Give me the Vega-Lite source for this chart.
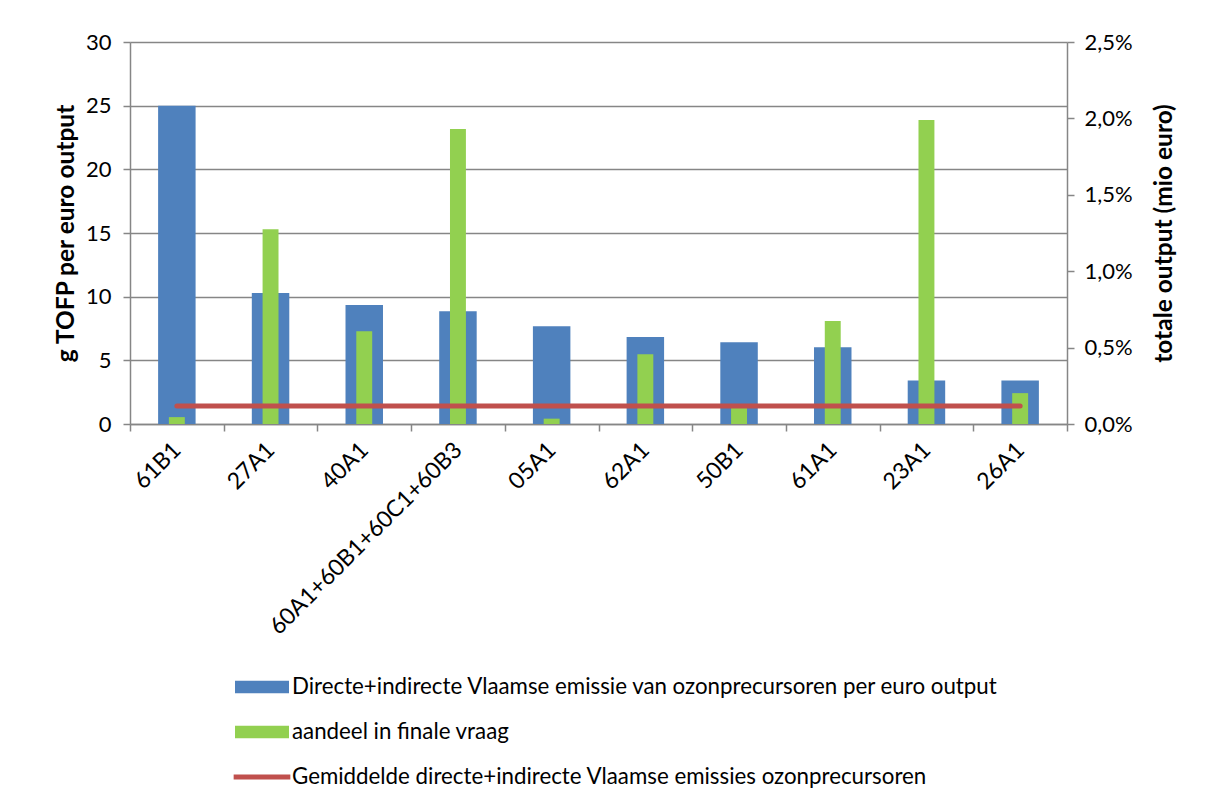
{
  "$schema": "https://vega.github.io/schema/vega-lite/v6.json",
  "width": 937,
  "height": 382,
  "autosize": {"type": "none"},
  "padding": {"left": 130, "top": 42, "right": 141, "bottom": 380},
  "background": "white",
  "config": {
    "view": {"stroke": null},
    "font": "Lato",
    "axis": {
      "labelFont": "Lato",
      "titleFont": "Lato",
      "labelFontSize": 22,
      "titleFontSize": 24.5,
      "labelColor": "#000000",
      "titleColor": "#000000",
      "domainColor": "#868686",
      "tickColor": "#868686",
      "gridColor": "#868686",
      "domainWidth": 1.5,
      "tickWidth": 1.5,
      "gridWidth": 1.5
    }
  },
  "data": {
    "values": [
      {"sector": "61B1", "emissie": 25.0, "aandeel": 0.00045, "gemiddelde": 1.42},
      {"sector": "27A1", "emissie": 10.29, "aandeel": 0.01274, "gemiddelde": 1.42},
      {"sector": "40A1", "emissie": 9.35, "aandeel": 0.00607, "gemiddelde": 1.42},
      {"sector": "60A1+60B1+60C1+60B3", "emissie": 8.85, "aandeel": 0.0193, "gemiddelde": 1.42},
      {"sector": "05A1", "emissie": 7.67, "aandeel": 0.00035, "gemiddelde": 1.42},
      {"sector": "62A1", "emissie": 6.83, "aandeel": 0.00456, "gemiddelde": 1.42},
      {"sector": "50B1", "emissie": 6.42, "aandeel": 0.00105, "gemiddelde": 1.42},
      {"sector": "61A1", "emissie": 6.02, "aandeel": 0.00674, "gemiddelde": 1.42},
      {"sector": "23A1", "emissie": 3.42, "aandeel": 0.0199, "gemiddelde": 1.42},
      {"sector": "26A1", "emissie": 3.42, "aandeel": 0.00202, "gemiddelde": 1.42}
    ]
  },
  "encoding": {
    "x": {
      "field": "sector",
      "type": "nominal",
      "sort": null,
      "scale": {"paddingInner": 0, "paddingOuter": 0},
      "axis": {
        "title": null,
        "labelAngle": -45,
        "labelAlign": "right",
        "labelBaseline": "middle",
        "labelFontSize": 23,
        "labelPadding": 15,
        "labelLimit": 500,
        "tickBand": "extent",
        "tickSize": 7,
        "grid": false,
        "domainColor": "#868686"
      }
    }
  },
  "layer": [
    {
      "mark": {"type": "bar", "width": {"band": 0.4}, "color": "#4F81BD"},
      "encoding": {
        "y": {
          "field": "emissie",
          "type": "quantitative",
          "scale": {"domain": [0, 30], "nice": false},
          "axis": {
            "title": "g TOFP per euro output",
            "titleFontWeight": "bold",
            "values": [0, 5, 10, 15, 20, 25, 30],
            "grid": true,
            "tickSize": 7,
            "labelPadding": 12,
            "titlePadding": 7
          }
        },
        "color": {
          "datum": "Directe+indirecte Vlaamse emissie van ozonprecursoren per euro output",
          "type": "nominal",
          "scale": {
            "domain": [
              "Directe+indirecte Vlaamse emissie van ozonprecursoren per euro output",
              "aandeel in finale vraag",
              "Gemiddelde directe+indirecte Vlaamse emissies ozonprecursoren"
            ],
            "range": ["#4F81BD", "#92D050", "#C0504D"]
          },
          "legend": {
            "title": null,
            "orient": "none",
            "legendX": 105,
            "legendY": 618,
            "labelFont": "Lato",
            "labelFontSize": 22.3,
            "labelColor": "#000000",
            "labelOffset": 3,
            "rowPadding": 6,
            "symbolSize": 2916,
            "symbolStrokeWidth": 0,
            "labelLimit": 900,
            "encode": {
              "symbols": {
                "update": {
                  "shape": [
                    {"test": "datum.value === 'Gemiddelde directe+indirecte Vlaamse emissies ozonprecursoren'", "value": "M-1.05,-0.09H1.05V0.09H-1.05Z"},
                    {"value": "M-1,-0.23H1V0.23H-1Z"}
                  ],
                  "fill": {"scale": "color", "field": "value"},
                  "fillOpacity": {"value": 1},
                  "strokeWidth": {"value": 0}
                }
              }
            }
          }
        }
      }
    },
    {
      "mark": {"type": "bar", "width": {"band": 0.17}, "color": "#92D050"},
      "encoding": {
        "y": {
          "field": "aandeel",
          "type": "quantitative",
          "scale": {"domain": [0, 0.025], "nice": false},
          "axis": {
            "orient": "right",
            "title": "totale output (mio euro)",
            "titleFontWeight": "bold",
            "titleAngle": 270,
            "titleBaseline": "top",
            "values": [0, 0.005, 0.01, 0.015, 0.02, 0.025],
            "labelExpr": "replace(format(datum.value, '.1%'), '.', ',')",
            "grid": false,
            "tickSize": 7,
            "labelPadding": 10,
            "titlePadding": 20
          }
        },
        "color": {"datum": "aandeel in finale vraag", "type": "nominal"}
      }
    },
    {
      "mark": {"type": "line", "strokeWidth": 5, "strokeCap": "round", "color": "#C0504D"},
      "encoding": {
        "y": {
          "field": "gemiddelde",
          "type": "quantitative",
          "scale": {"domain": [0, 30], "nice": false},
          "axis": null
        },
        "color": {"datum": "Gemiddelde directe+indirecte Vlaamse emissies ozonprecursoren", "type": "nominal"}
      }
    }
  ],
  "resolve": {"scale": {"y": "independent"}}
}
